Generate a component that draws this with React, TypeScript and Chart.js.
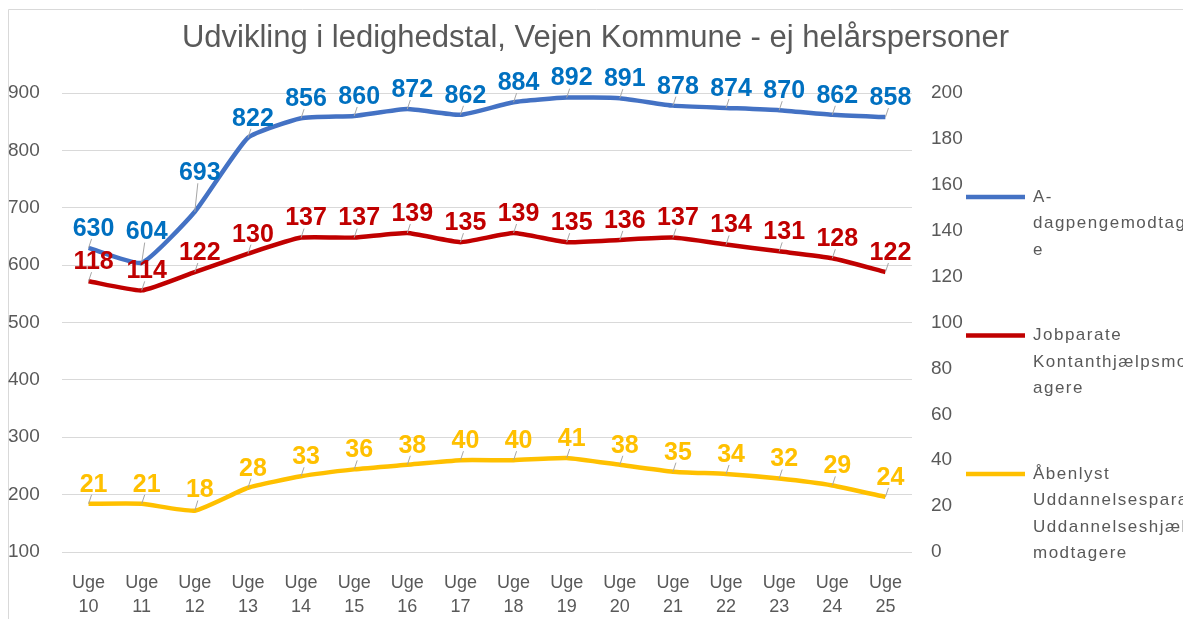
import { useEffect, useRef } from 'react';
import { Chart, registerables } from 'chart.js';

Chart.register(...registerables);

const weeks = ['10', '11', '12', '13', '14', '15', '16', '17', '18', '19', '20', '21', '22', '23', '24', '25'];
const categories = weeks.map((w) => ['Uge', w]);

const aDagpenge = [630, 604, 693, 822, 856, 860, 872, 862, 884, 892, 891, 878, 874, 870, 862, 858];
const jobparate = [118, 114, 122, 130, 137, 137, 139, 135, 139, 135, 136, 137, 134, 131, 128, 122];
const uddannelse = [21, 21, 18, 28, 33, 36, 38, 40, 40, 41, 38, 35, 34, 32, 29, 24];

const seriesNames = [
  'A-dagpengemodtagere',
  'Jobparate Kontanthjælpsmodtagere',
  'Åbenlyst Uddannelsesparate/Uddannelseshjælpsmodtagere',
];
const legendLines = [
  ['A-', 'dagpengemodtager', 'e'],
  ['Jobparate', 'Kontanthjælpsmodt', 'agere'],
  ['Åbenlyst', 'Uddannelsesparate/', 'Uddannelseshjælps', 'modtagere'],
];

const leftMin = 100;
const leftMax = 900;
const leftStep = 100;
const rightMin = 0;
const rightMax = 200;
const rightStep = 20;

const titleText = 'Udvikling i ledighedstal, Vejen Kommune - ej helårspersoner';

const lineColors = ['#4472C4', '#C00000', '#FFC000'];
const labelColors = ['#0070C0', '#C00000', '#FFC000'];
const textGray = '#595959';
const FONT = '"Liberation Sans", Arial, sans-serif';

const framePlugin = {
  id: 'frame',
  beforeDraw(chart: any) {
    const { ctx, width, height } = chart;
    ctx.save();
    ctx.fillStyle = '#ffffff';
    ctx.fillRect(0, 0, width, height);
    ctx.strokeStyle = '#D9D9D9';
    ctx.lineWidth = 1;
    ctx.beginPath();
    ctx.moveTo(8.5, height + 2);
    ctx.lineTo(8.5, 9.5);
    ctx.lineTo(width + 2, 9.5);
    ctx.stroke();
    ctx.restore();
  },
};

function lineYAt(pts: any[], xq: number): number {
  for (let k = 0; k < pts.length - 1; k++) {
    const a = pts[k];
    const b = pts[k + 1];
    if (xq >= a.x && xq <= b.x) {
      const t = (xq - a.x) / (b.x - a.x);
      return a.y + t * (b.y - a.y);
    }
  }
  return Infinity;
}

const dataLabelPlugin = {
  id: 'dataLabels',
  afterDatasetsDraw(chart: any) {
    const ctx = chart.ctx;
    chart.data.datasets.forEach((ds: any, i: number) => {
      const meta = chart.getDatasetMeta(i);
      const pts = meta.data;
      pts.forEach((pt: any, j: number) => {
        const x = pt.x;
        const y = pt.y;
        const cx = x + 5;
        const yl = lineYAt(pts, cx - 14);
        const yr = lineYAt(pts, cx + 14);
        const minY = Math.min(y, yl, yr);
        const ly = Math.min(y - 19, minY - 12);
        ctx.save();
        ctx.strokeStyle = '#A6A6A6';
        ctx.lineWidth = 1;
        ctx.beginPath();
        ctx.moveTo(x, y);
        ctx.lineTo(x + 3, ly + 10);
        ctx.stroke();
        ctx.font = `bold 25px ${FONT}`;
        ctx.fillStyle = labelColors[i];
        ctx.textAlign = 'center';
        ctx.textBaseline = 'middle';
        ctx.fillText(String(ds.data[j]), cx, ly);
        ctx.restore();
      });
    });
  },
};

const legendPlugin = {
  id: 'sideLegend',
  afterDraw(chart: any) {
    const ctx = chart.ctx;
    const firstY = 197;
    const gap = 138.5;
    const lineH = 26.5;
    ctx.save();
    legendLines.forEach((lines, i) => {
      const y = firstY + i * gap;
      ctx.strokeStyle = lineColors[i];
      ctx.lineWidth = 4.5;
      ctx.lineCap = 'butt';
      ctx.beginPath();
      ctx.moveTo(966, y);
      ctx.lineTo(1025, y);
      ctx.stroke();
      ctx.fillStyle = textGray;
      ctx.font = `17px ${FONT}`;
      (ctx as any).letterSpacing = '1.5px';
      ctx.textAlign = 'left';
      ctx.textBaseline = 'middle';
      lines.forEach((t, k) => {
        ctx.fillText(t, 1033, y + k * lineH);
      });
    });
    ctx.restore();
  },
};

export default function App() {
  const canvasRef = useRef<HTMLCanvasElement | null>(null);

  useEffect(() => {
    if (!canvasRef.current) return;
    const chart = new Chart(canvasRef.current, {
      type: 'line',
      data: {
        labels: categories,
        datasets: [
          {
            label: seriesNames[0],
            data: aDagpenge,
            yAxisID: 'yLeft',
            borderColor: lineColors[0],
            backgroundColor: lineColors[0],
            borderWidth: 4.5,
            pointRadius: 0,
            tension: 0.15,
          },
          {
            label: seriesNames[1],
            data: jobparate,
            yAxisID: 'yRight',
            borderColor: lineColors[1],
            backgroundColor: lineColors[1],
            borderWidth: 4.5,
            pointRadius: 0,
            tension: 0.15,
          },
          {
            label: seriesNames[2],
            data: uddannelse,
            yAxisID: 'yRight',
            borderColor: lineColors[2],
            backgroundColor: lineColors[2],
            borderWidth: 4.5,
            pointRadius: 0,
            tension: 0.15,
          },
        ],
      },
      options: {
        animation: false,
        responsive: true,
        maintainAspectRatio: false,
        layout: { padding: { left: 8, right: 0, top: 0, bottom: 0 } },
        plugins: {
          legend: { display: false },
          tooltip: { enabled: false },
          title: {
            display: true,
            text: titleText,
            color: textGray,
            font: { family: FONT, size: 31, weight: 'normal', lineHeight: 1.2 },
            padding: { top: 19.4, bottom: 36.4 },
          },
        },
        scales: {
          x: {
            offset: true,
            grid: { display: false, drawTicks: false },
            border: { display: false },
            ticks: {
              color: textGray,
              font: { family: FONT, size: 18, lineHeight: '24px' as any },
              padding: 19,
              maxRotation: 0,
              autoSkip: false,
            },
            afterFit: (axis: any) => {
              axis.height = 67;
            },
          },
          yLeft: {
            position: 'left',
            min: leftMin,
            max: leftMax,
            grid: { color: '#D9D9D9', lineWidth: 1, drawTicks: false },
            border: { display: false },
            ticks: {
              stepSize: leftStep,
              color: textGray,
              font: { family: FONT, size: 19 },
              crossAlign: 'far',
              padding: 8,
            },
            afterFit: (axis: any) => {
              axis.width = 54;
            },
          },
          yRight: {
            position: 'right',
            min: rightMin,
            max: rightMax,
            grid: { display: false, drawTicks: false },
            border: { display: false },
            ticks: {
              stepSize: rightStep,
              color: textGray,
              font: { family: FONT, size: 19 },
              padding: 19,
            },
            afterFit: (axis: any) => {
              axis.width = 271;
            },
          },
        },
      },
      plugins: [framePlugin, dataLabelPlugin, legendPlugin],
    });
    return () => chart.destroy();
  }, []);

  return (
    <div style={{ position: 'fixed', left: 0, top: 0, width: 1183, height: 619, background: '#fff' }}>
      <canvas ref={canvasRef} />
    </div>
  );
}
